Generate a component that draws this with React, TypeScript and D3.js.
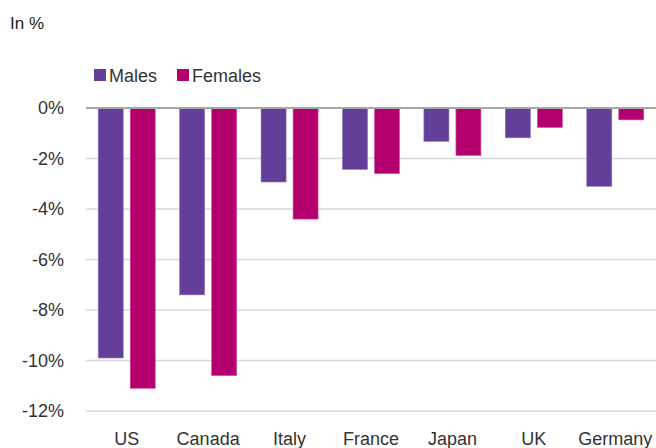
import React from "react";
import * as d3 from "d3";

const categories = ["US", "Canada", "Italy", "France", "Japan", "UK", "Germany"];
const males = [-9.9, -7.4, -2.93, -2.43, -1.32, -1.18, -3.1];
const females = [-11.1, -10.6, -4.4, -2.6, -1.88, -0.77, -0.47];
const seriesNames = ["Males", "Females"];
const yTicks = [0, -2, -4, -6, -8, -10, -12];

const W = 656;
const H = 448;
const left = 86;
const right = 656;
const top = 108;
const bottom = 411;
const font = "'Liberation Sans', Arial, Helvetica, sans-serif";
const colors = ["#633f99", "#b4006e"];
const strokes = ["#8b70bb", "#d4509f"];

export default function App() {
  const x = d3.scaleBand<string>().domain(categories).range([left, right]).paddingInner(0).paddingOuter(0);
  const y = d3.scaleLinear().domain([0, -12]).range([top, bottom]);
  const barW = 25;
  const gap = 7;
  const series = [males, females];

  return (
    <svg width={W} height={H} style={{ position: "absolute", left: 0, top: 0, background: "#fff" }}>
      <text x={10} y={29} fontFamily={font} fontSize={17} fill="#222">In %</text>
      {/* legend */}
      {seriesNames.map((name, i) => {
        const lx = i === 0 ? 94 : 177;
        return (
          <g key={name}>
            <rect x={lx} y={69} width={12} height={12} fill={colors[i]} />
            <text x={lx + 15} y={82} fontFamily={font} fontSize={18} fill="#333">{name}</text>
          </g>
        );
      })}
      {/* grid */}
      {yTicks.map((t) => (
        <g key={t}>
          {t !== 0 && (
            <line x1={left} x2={right} y1={y(t)} y2={y(t)} stroke="#d9d9d9" strokeWidth={1.6} />
          )}
          <text x={64} y={y(t) + 6} textAnchor="end" fontFamily={font} fontSize={18} fill="#333">
            {String(t) + "%"}
          </text>
        </g>
      ))}
      {/* bars */}
      {categories.map((c, ci) => {
        const cx = (x(c) as number) + x.bandwidth() / 2;
        return series.map((s, si) => {
          const bx = si === 0 ? cx - gap / 2 - barW : cx + gap / 2;
          const v = s[ci];
          return (
            <rect
              key={c + si}
              x={bx}
              y={y(0)}
              width={barW}
              height={y(v) - y(0)}
              fill={colors[si]}
              stroke={strokes[si]}
              strokeWidth={0.6}
            />
          );
        });
      })}
      <line x1={left} x2={right} y1={y(0)} y2={y(0)} stroke="#a6a6a6" strokeWidth={2.2} />
      {/* category labels */}
      {categories.map((c) => (
        <text
          key={c}
          x={(x(c) as number) + x.bandwidth() / 2}
          y={445}
          textAnchor="middle"
          fontFamily={font}
          fontSize={18}
          fill="#333"
        >
          {c}
        </text>
      ))}
    </svg>
  );
}
